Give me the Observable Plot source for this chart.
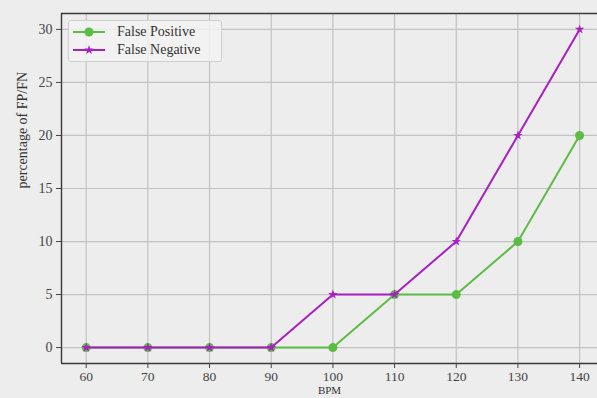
<!DOCTYPE html>
<html>
<head>
<meta charset="utf-8">
<script src="https://cdn.jsdelivr.net/npm/d3@7"></script>
<script src="https://cdn.jsdelivr.net/npm/@observablehq/plot@0.6"></script>
<style>
  html, body { margin: 0; padding: 0; background: #ededed; overflow: hidden; }
  #wrap { position: relative; width: 597px; height: 398px; overflow: hidden; background: #ededed; }
  #wrap svg.plot { max-width: none !important; }
  #legend { position: absolute; left: 68px; top: 20px; width: 152px; height: 40px;
    border: 1px solid #cfcfcf; border-radius: 3px; background: rgba(242,242,242,0.85);
    font-family: "Liberation Serif", "DejaVu Serif", serif; font-size: 14px; color: #333; }
  .row { position: absolute; left: 0; height: 18px; display: flex; align-items: center; }
  .row svg { margin-left: 4px; margin-right: 12px; }
</style>
</head>
<body>
<div id="wrap"></div>
<script>
const bpm = [60, 70, 80, 90, 100, 110, 120, 130, 140];
const falsePositive = [0, 0, 0, 0, 0, 5, 5, 10, 20];
const falseNegative = [0, 0, 0, 0, 5, 5, 10, 20, 30];
const seriesNames = ["False Positive", "False Negative"];
const seriesColors = ["#5cbc44", "#a81fc4"];
const xTicks = [60, 70, 80, 90, 100, 110, 120, 130, 140];
const yTicks = [0, 5, 10, 15, 20, 25, 30];
const xDomain = [56, 142.9];
const yDomain = [-1.5, 31.5];

const fp = bpm.map((b, i) => ({bpm: b, v: falsePositive[i]}));
const fn = bpm.map((b, i) => ({bpm: b, v: falseNegative[i]}));

const chart = Plot.plot({
  className: "plot",
  width: 597,
  height: 398,
  marginLeft: 61,
  marginRight: 0,
  marginTop: 13,
  marginBottom: 35,
  style: {background: "#ededed", fontFamily: "Liberation Serif, DejaVu Serif, serif", fontSize: "14px", color: "#444", maxWidth: "none"},
  x: {domain: xDomain, ticks: xTicks, label: null},
  y: {domain: yDomain, ticks: yTicks, label: null},
  marks: [
    Plot.gridX(xTicks, {stroke: "#c2c2c2", strokeOpacity: 1, strokeWidth: 1.2}),
    Plot.gridY(yTicks, {stroke: "#c2c2c2", strokeOpacity: 1, strokeWidth: 1.2}),
    Plot.ruleX([xDomain[0]], {stroke: "#3a3a3a", strokeWidth: 1.4}),
    Plot.ruleY(yDomain, {stroke: "#3a3a3a", strokeWidth: 1.4}),
    Plot.axisX(xTicks, {tickSize: 5, tickPadding: 3, stroke: "#444", fill: "#444", fontSize: 13.5, label: null}),
    Plot.axisY(yTicks, {tickSize: 5, tickPadding: 4, stroke: "#444", fill: "#444", fontSize: 14, label: null}),
    Plot.text(["BPM"], {frameAnchor: "bottom", dy: 30.5, fill: "#333", fontSize: 11, text: d => d}),
    Plot.text(["percentage of FP/FN"], {frameAnchor: "left", dx: -39, rotate: -90, fill: "#333", fontSize: 14, text: d => d}),
    Plot.line(fp, {x: "bpm", y: "v", stroke: seriesColors[0], strokeWidth: 2}),
    Plot.dot(fp, {x: "bpm", y: "v", fill: seriesColors[0], r: 4.5, symbol: "circle"}),
    Plot.line(fn, {x: "bpm", y: "v", stroke: seriesColors[1], strokeWidth: 2}),
    Plot.dot(fn, {x: "bpm", y: "v", fill: seriesColors[1], r: 3, symbol: "star"})
  ]
});
const wrap = document.getElementById("wrap");
wrap.appendChild(chart);

const legend = document.createElement("div");
legend.id = "legend";
const symbols = ["circle", "star"];
seriesNames.forEach((name, i) => {
  const row = document.createElement("div");
  row.className = "row";
  row.style.top = (2 + i * 18) + "px";
  const sym = symbols[i] === "circle"
    ? `<circle cx="16" cy="7" r="4.5" fill="${seriesColors[i]}"/>`
    : `<path transform="translate(16,7)" d="${d3.symbol(d3.symbolStar, 28)()}" fill="${seriesColors[i]}"/>`;
  row.innerHTML = `<svg width="32" height="14"><line x1="0" x2="32" y1="7" y2="7" stroke="${seriesColors[i]}" stroke-width="2"/>${sym}</svg><span>${name}</span>`;
  legend.appendChild(row);
});
wrap.appendChild(legend);
</script>
</body>
</html>
